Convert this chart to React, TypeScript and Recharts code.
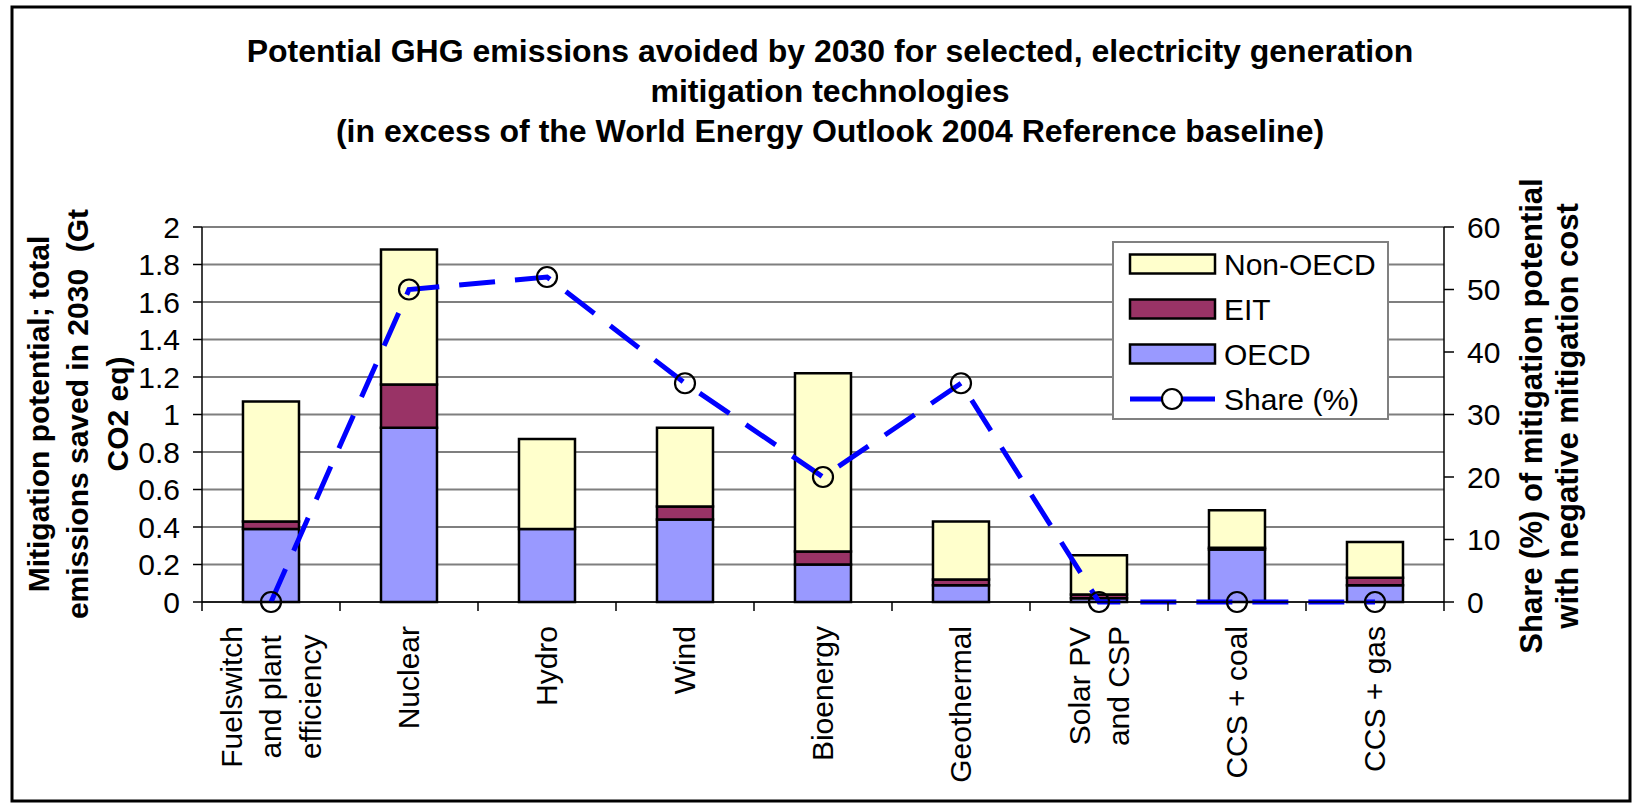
import React from 'react';
import { ComposedChart, Bar, Line, XAxis, YAxis, CartesianGrid } from 'recharts';

const categories = [
  'Fuelswitch\nand plant\nefficiency',
  'Nuclear',
  'Hydro',
  'Wind',
  'Bioenergy',
  'Geothermal',
  'Solar PV\nand CSP',
  'CCS + coal',
  'CCS + gas',
];
// Gt CO2 eq by region
const oecd = [0.39, 0.93, 0.39, 0.44, 0.2, 0.09, 0.02, 0.28, 0.09];
const eit = [0.04, 0.23, 0, 0.07, 0.07, 0.03, 0.02, 0.01, 0.04];
const nonOecd = [0.64, 0.72, 0.48, 0.42, 0.95, 0.31, 0.21, 0.2, 0.19];
// share (%) with negative cost
const share = [0, 50, 52, 35, 20, 35, 0, 0, 0];

const leftTicks = [0, 0.2, 0.4, 0.6, 0.8, 1, 1.2, 1.4, 1.6, 1.8, 2];
const rightTicks = [0, 10, 20, 30, 40, 50, 60];

const titleLines = [
  'Potential GHG emissions avoided by 2030 for selected, electricity generation',
  'mitigation technologies',
  '(in excess of the World Energy Outlook 2004 Reference baseline)',
];
const leftTitle = ['Mitigation potential; total', 'emissions saved in 2030  (Gt', 'CO2 eq)'];
const rightTitle = ['Share (%) of mitigation potential', 'with negative mitigation cost'];

const FONT = '"Liberation Sans", Arial, sans-serif';
const PLOT_LEFT = 202;
const PLOT_RIGHT = 1444;
const PLOT_TOP = 227;
const PLOT_BOTTOM = 602;

const data = categories.map((name, i) => ({
  name,
  oecd: oecd[i],
  eit: eit[i],
  nonOecd: nonOecd[i],
  share: share[i],
}));

const ctx = typeof document !== 'undefined' ? document.createElement('canvas').getContext('2d') : null;
const textWidth = (s: string, font: string) => {
  if (!ctx) return s.length * 15;
  ctx.font = font;
  return ctx.measureText(s).width;
};

const CategoryTick = (props: any) => {
  const { x, y, payload, index } = props;
  const lines = String(payload.value).split('\n');
  const band = (PLOT_RIGHT - PLOT_LEFT) / categories.length;
  const maxW = Math.max(...lines.map((l) => textWidth(l, `30px ${FONT}`)));
  const cy = y + 24 + maxW / 2;
  return (
    <g>
      <line x1={x - band / 2} x2={x - band / 2} y1={y} y2={y + 9} stroke="#000" strokeWidth={1.5} />
      {index === categories.length - 1 && (
        <line x1={x + band / 2} x2={x + band / 2} y1={y} y2={y + 9} stroke="#000" strokeWidth={1.5} />
      )}
      {lines.map((l, i) => {
        const cx = x + (i - (lines.length - 1) / 2) * 39.5;
        return (
          <text
            key={i}
            x={cx}
            y={cy}
            transform={`rotate(-90 ${cx} ${cy})`}
            textAnchor="middle"
            dominantBaseline="central"
            fontSize={30}
            fontFamily={FONT}
            fill="#000"
          >
            {l}
          </text>
        );
      })}
    </g>
  );
};

const ShareDot = (props: any) => {
  const { cx, cy, index } = props;
  return <circle key={`dot-${index}`} cx={cx} cy={cy} r={10} fill="none" stroke="#000" strokeWidth={2.2} />;
};

const legendItems = [
  { label: 'Non-OECD', color: '#FFFFCC' },
  { label: 'EIT', color: '#993366' },
  { label: 'OECD', color: '#9999FF' },
];

export default function App() {
  return (
    <div style={{ position: 'absolute', left: 0, top: 0, width: 1634, height: 806, background: '#fff' }}>
      <ComposedChart
        width={1634}
        height={806}
        data={data}
        margin={{ top: PLOT_TOP, right: 1634 - PLOT_RIGHT - 60, bottom: 806 - PLOT_BOTTOM - 30, left: PLOT_LEFT - 60 }}
        barCategoryGap="29.7%"
      >
        <CartesianGrid yAxisId="left" vertical={false} stroke="#7f7f7f" strokeWidth={2} />
        <XAxis
          dataKey="name"
          interval={0}
          height={30}
          tickLine={false}
          tickSize={0}
          tickMargin={0}
          axisLine={{ stroke: '#000', strokeWidth: 1.5 }}
          tick={<CategoryTick />}
        />
        <YAxis
          yAxisId="left"
          domain={[0, 2]}
          ticks={leftTicks}
          interval={0}
          width={60}
          tickSize={9}
          tickMargin={13}
          axisLine={{ stroke: '#000', strokeWidth: 1.5 }}
          tickLine={{ stroke: '#000', strokeWidth: 1.5 }}
          tick={{ fill: '#000', fontSize: 30, fontFamily: FONT }}
        />
        <YAxis
          yAxisId="right"
          orientation="right"
          domain={[0, 60]}
          ticks={rightTicks}
          interval={0}
          width={60}
          tickSize={10}
          tickMargin={13}
          axisLine={{ stroke: '#000', strokeWidth: 1.5 }}
          tickLine={{ stroke: '#000', strokeWidth: 1.5 }}
          tick={{ fill: '#000', fontSize: 30, fontFamily: FONT }}
        />
        <Bar yAxisId="left" dataKey="oecd" stackId="a" fill="#9999FF" stroke="#000" strokeWidth={2.5} isAnimationActive={false} />
        <Bar yAxisId="left" dataKey="eit" stackId="a" fill="#993366" stroke="#000" strokeWidth={2.5} isAnimationActive={false} />
        <Bar yAxisId="left" dataKey="nonOecd" stackId="a" fill="#FFFFCC" stroke="#000" strokeWidth={2.5} isAnimationActive={false} />
        <Line
          yAxisId="right"
          dataKey="share"
          type="linear"
          stroke="#0000FF"
          strokeWidth={5}
          strokeDasharray="36 20"
          dot={<ShareDot />}
          activeDot={false}
          isAnimationActive={false}
        />
      </ComposedChart>

      <svg width={1634} height={806} style={{ position: 'absolute', left: 0, top: 0, pointerEvents: 'none' }}>
        {/* outer frame */}
        <rect x={12} y={7} width={1618} height={794} fill="none" stroke="#000" strokeWidth={3} />

        {titleLines.map((t, i) => (
          <text key={t} x={830} y={62 + i * 40} textAnchor="middle" fontSize={32} fontWeight="bold" fontFamily={FONT}>
            {t}
          </text>
        ))}

        {leftTitle.map((t, i) => {
          const cx = 38 + i * 39.5;
          const cy = 414;
          return (
            <text key={t} x={cx} y={cy} transform={`rotate(-90 ${cx} ${cy})`} textAnchor="middle"
              dominantBaseline="central" fontSize={30} fontWeight="bold" fontFamily={FONT}
              style={{ whiteSpace: 'pre' }}>
              {t}
            </text>
          );
        })}

        {rightTitle.map((t, i) => {
          const cx = 1531 + i * 36;
          const cy = 416;
          return (
            <text key={t} x={cx} y={cy} transform={`rotate(-90 ${cx} ${cy})`} textAnchor="middle"
              dominantBaseline="central" fontSize={31} fontWeight="bold" fontFamily={FONT}>
              {t}
            </text>
          );
        })}

        {/* Legend */}
        <rect x={1113} y={242} width={275} height={177} fill="#fff" stroke="#808080" strokeWidth={2} />
        {legendItems.map((item, i) => {
          const cy = 264 + i * 45;
          return (
            <g key={item.label}>
              <rect x={1130} y={cy - 9.5} width={85} height={19} fill={item.color} stroke="#000" strokeWidth={2.5} />
              <text x={1224} y={cy} dominantBaseline="central" fontSize={30} fontFamily={FONT}>{item.label}</text>
            </g>
          );
        })}
        <line x1={1130} x2={1215} y1={399} y2={399} stroke="#0000FF" strokeWidth={5} />
        <circle cx={1172} cy={399} r={10} fill="#fff" stroke="#000" strokeWidth={2.2} />
        <text x={1224} y={399} dominantBaseline="central" fontSize={30} fontFamily={FONT}>Share (%)</text>
      </svg>
    </div>
  );
}
